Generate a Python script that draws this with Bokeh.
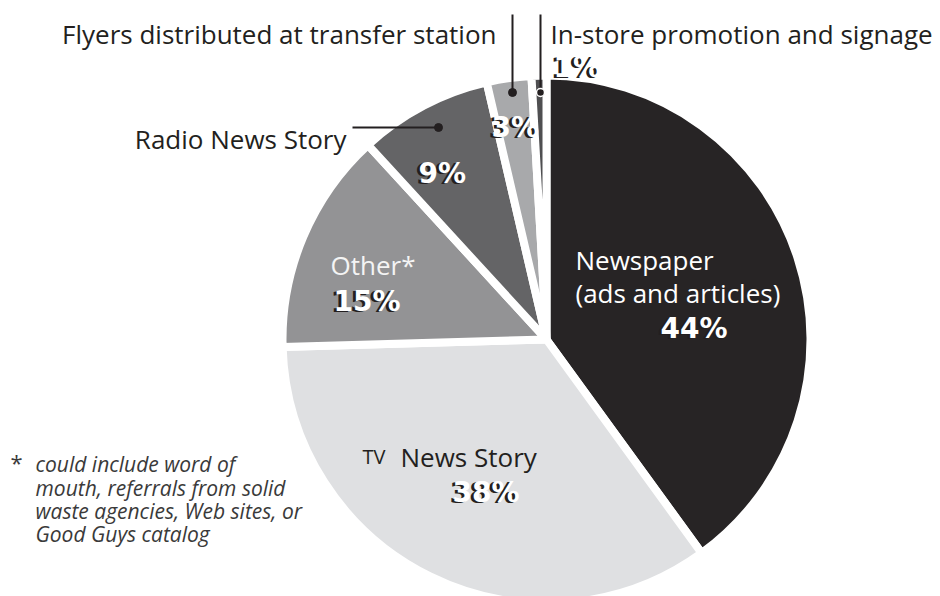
import numpy as np
from bokeh.plotting import figure
from bokeh.models import Range1d, ColumnDataSource
from bokeh.embed import file_html
from bokeh.resources import INLINE
from bokeh.core.properties import value

# ---- data ----
categories = ["Newspaper (ads and articles)", "TV News Story", "Other*",
              "Radio News Story", "Flyers distributed at transfer station",
              "In-store promotion and signage"]
shares = [44, 38, 15, 9, 3, 1]
pct_labels = ["44%", "38%", "15%", "9%", "3%", "1%"]
colors = ["#272425", "#dfe0e2", "#939395", "#646466", "#a8a9ab", "#4f4f51"]
footnote = ["could include word of", "mouth, referrals from solid",
            "waste agencies, Web sites, or", "Good Guys catalog"]

FONT = "Open Sans"
PCT_FONT = "DejaVu Sans"
DARK = "#231f20"
W, H = 940, 596


def sy(y):
    # screen y (page pixels) -> data y
    return H - y


p = figure(width=W, height=H, x_range=Range1d(0, W), y_range=Range1d(0, H),
           output_backend="svg", toolbar_location=None,
           x_axis_location=None, y_axis_location=None, min_border=0,
           outline_line_color=None)
p.grid.visible = False

vals = np.array(shares, dtype=float)
frac = vals / vals.sum()
cum = np.concatenate([[0.0], np.cumsum(frac)])
start = np.pi / 2 - 2 * np.pi * cum[:-1]
end = np.pi / 2 - 2 * np.pi * cum[1:]
src = ColumnDataSource(dict(start=start, end=end, color=colors, cat=categories))
p.wedge(x=546, y=sy(339), radius=264, start_angle="start", end_angle="end",
        direction="clock", fill_color="color", line_color="white",
        line_width=8, line_join="bevel", source=src)

# ---- leader lines ----
p.segment(x0=[352, 512, 540], y0=[sy(127), sy(14), sy(14)],
          x1=[438, 512, 540], y1=[sy(127), sy(92), sy(92)],
          line_color=DARK, line_width=2)
p.scatter(x=[438, 512], y=[sy(127), sy(92)], size=8, fill_color=DARK, line_color=DARK)
p.scatter(x=[540], y=[sy(92)], size=8, fill_color=DARK, line_color="white", line_width=1.5)

# ---- category labels ----
def label(x, y, txt, color=DARK, size=26, align="left", style="normal", font=FONT):
    p.text(x=[x], y=[sy(y)], text=[txt], text_color=color,
           text_font=value(font), text_font_size=f"{size}px",
           text_align=align, text_baseline="alphabetic", text_font_style=style)

label(496, 33, categories[4], align="right")
label(550, 33, categories[5])
label(346, 138, categories[3], align="right")
label(575, 259, "Newspaper", color="white")
label(575, 292, "(ads and articles)", color="white")
label(330, 264, "Other*", color="#f4f4f4")
label(362, 456, "TV", size=20)
label(400, 456, "News Story")

# ---- percentage labels (white with dark offset shadow) ----
pct_x = [660, 452, 333, 418, 491, 553]
pct_y = [328, 492, 301, 173, 127, 67]
p.text(x=[x - 3 for x in pct_x], y=[sy(y) - 1 for y in pct_y], text=pct_labels,
       text_color=DARK, text_font=value(PCT_FONT), text_font_size="28px",
       text_font_style="bold", text_baseline="alphabetic")
p.text(x=pct_x, y=[sy(y) for y in pct_y], text=pct_labels,
       text_color="white", text_font=value(PCT_FONT), text_font_size="28px",
       text_font_style="bold", text_baseline="alphabetic")

# ---- footnote ----
p.text(x=[10], y=[sy(461)], text=["*"], text_color="#3a3a3a",
       text_font=value(FONT), text_font_size="22px", text_baseline="alphabetic")
fy = [463, 487, 510, 533]
p.text(x=[35] * 4, y=[sy(y) for y in fy], text=footnote, text_color="#3a3a3a",
       text_font=value(FONT), text_font_size="21px", text_font_style="italic",
       text_baseline="alphabetic")

open("out.html", "w").write(file_html(p, INLINE))
